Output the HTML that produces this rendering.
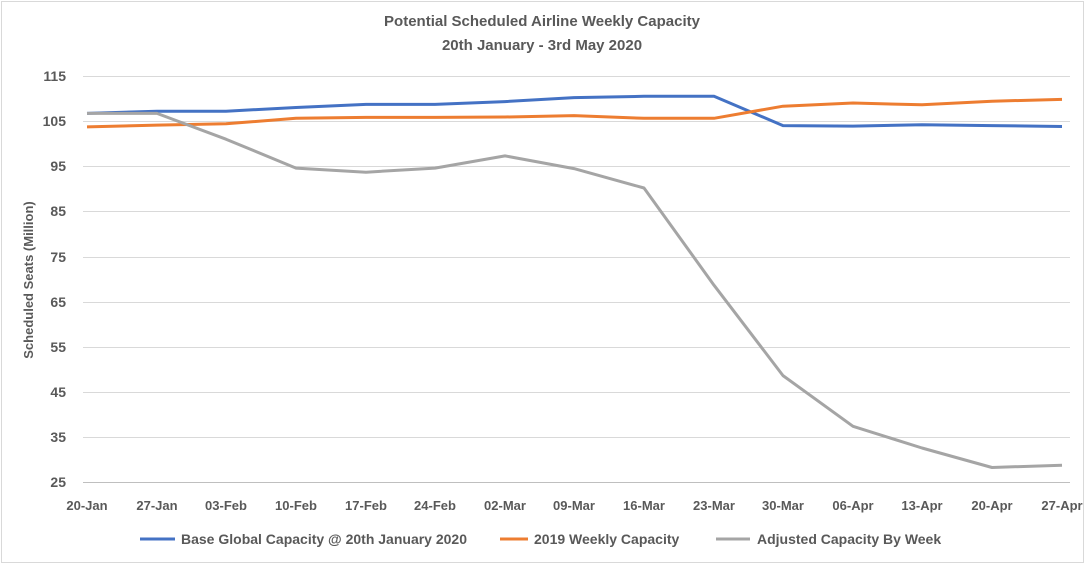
<!DOCTYPE html>
<html><head><meta charset="utf-8"><style>
body{margin:0;background:#fff}
svg text{font-family:"Liberation Sans",sans-serif;fill:#595959}
</style></head><body>
<svg width="1085" height="564" viewBox="0 0 1085 564" xmlns="http://www.w3.org/2000/svg">
<rect x="1.5" y="1.5" width="1082" height="561" fill="#fff" stroke="#d9d9d9"/>
<text x="542" y="26" text-anchor="middle" font-size="15" font-weight="bold">Potential Scheduled Airline Weekly Capacity</text>
<text x="542" y="50" text-anchor="middle" font-size="15" font-weight="bold">20th January - 3rd May 2020</text>
<g stroke="#d9d9d9" stroke-width="1">
<line x1="83" x2="1070" y1="76.5" y2="76.5"/><line x1="83" x2="1070" y1="121.5" y2="121.5"/>
<line x1="83" x2="1070" y1="166.5" y2="166.5"/><line x1="83" x2="1070" y1="211.5" y2="211.5"/>
<line x1="83" x2="1070" y1="257.5" y2="257.5"/><line x1="83" x2="1070" y1="302.5" y2="302.5"/>
<line x1="83" x2="1070" y1="347.5" y2="347.5"/><line x1="83" x2="1070" y1="392.5" y2="392.5"/>
<line x1="83" x2="1070" y1="437.5" y2="437.5"/>
</g>
<line x1="83" x2="1070" y1="482.5" y2="482.5" stroke="#bfbfbf"/>
<g font-size="14" font-weight="bold" text-anchor="end">
<text x="66" y="81">115</text><text x="66" y="126">105</text><text x="66" y="171">95</text>
<text x="66" y="216">85</text><text x="66" y="262">75</text><text x="66" y="307">65</text>
<text x="66" y="352">55</text><text x="66" y="397">45</text><text x="66" y="442">35</text>
<text x="66" y="487">25</text>
</g>
<text transform="translate(33,280) rotate(-90)" text-anchor="middle" font-size="13" font-weight="bold">Scheduled Seats (Million)</text>
<g font-size="13" font-weight="bold" text-anchor="middle">
<text x="87" y="510">20-Jan</text><text x="157" y="510">27-Jan</text><text x="226" y="510">03-Feb</text>
<text x="296" y="510">10-Feb</text><text x="366" y="510">17-Feb</text><text x="435" y="510">24-Feb</text>
<text x="505" y="510">02-Mar</text><text x="574" y="510">09-Mar</text><text x="644" y="510">16-Mar</text>
<text x="714" y="510">23-Mar</text><text x="783" y="510">30-Mar</text><text x="853" y="510">06-Apr</text>
<text x="922" y="510">13-Apr</text><text x="992" y="510">20-Apr</text><text x="1062" y="510">27-Apr</text>
</g>
<g fill="none" stroke-width="3" stroke-linejoin="round">
<polyline stroke="#4472c4" points="87,113.4 157,111.2 226,111.2 296,107.5 366,104.4 435,104.4 505,101.6 574,97.6 644,96.3 714,96.3 783,125.6 853,126.1 922,124.7 992,125.6 1062,126.5"/>
<polyline stroke="#ed7d31" points="87,126.9 157,125.1 226,123.8 296,118.3 366,117.4 435,117.4 505,117.0 574,115.6 644,118.3 714,118.3 783,106.2 853,103.0 922,104.8 992,101.2 1062,99.4"/>
<polyline stroke="#a5a5a5" points="87,113.4 157,113.4 226,139.2 296,168.1 366,172.2 435,168.1 505,155.9 574,168.6 644,188.0 714,285.2 783,375.6 853,426.3 922,448.0 992,467.5 1062,465.2"/>
</g>
<g font-size="14" font-weight="bold">
<line x1="140" x2="175" y1="539" y2="539" stroke="#4472c4" stroke-width="3"/>
<text x="181" y="544">Base Global Capacity @ 20th January 2020</text>
<line x1="500" x2="528" y1="539" y2="539" stroke="#ed7d31" stroke-width="3"/>
<text x="534" y="544">2019 Weekly Capacity</text>
<line x1="716" x2="750" y1="539" y2="539" stroke="#a5a5a5" stroke-width="3"/>
<text x="757" y="544">Adjusted Capacity By Week</text>
</g>
</svg>
</body></html>
